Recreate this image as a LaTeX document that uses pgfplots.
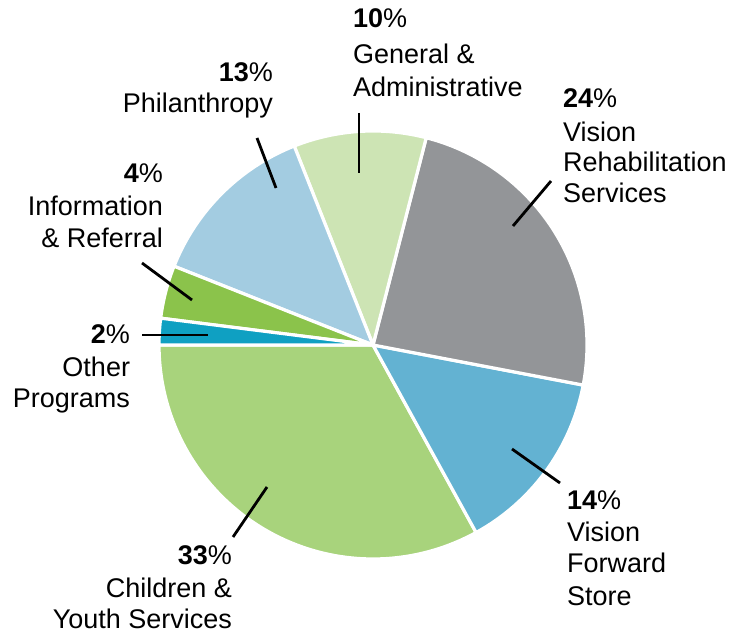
\documentclass[border=0pt]{standalone}
\usepackage{pgfplots}
\pgfplotsset{compat=1.18}
\usepackage{fontspec}
\setmainfont{Liberation Sans}
\definecolor{cCYS}{HTML}{A8D37C}
\definecolor{cVFS}{HTML}{63B2D2}
\definecolor{cVRS}{HTML}{939598}
\definecolor{cGA}{HTML}{CDE4B4}
\definecolor{cPH}{HTML}{A3CCE1}
\definecolor{cIR}{HTML}{8BC34B}
\definecolor{cOP}{HTML}{0FA0C2}
\tikzset{lw/.style={anchor=base west, font=\fontsize{13.5}{16}\selectfont, inner sep=0pt, outer sep=0pt},
         le/.style={anchor=base east, font=\fontsize{13.5}{16}\selectfont, inner sep=0pt, outer sep=0pt}}
% shares in percent: 33, 14, 24, 10, 13, 4, 2 (start at 180 deg, counter-clockwise, 3.6 deg per percent)
\begin{document}
\begin{tikzpicture}
\begin{axis}[name=ax, scale only axis, width=376.5pt, height=318pt,
  xmin=0, xmax=753, ymin=0, ymax=636, hide axis, clip=false]
\pgfplotsset{slice/.style={draw=white, line width=1.6pt, line join=round, samples=80, variable=\t}}
\addplot[slice, fill=cCYS, domain=180:298.8] ({373+214*cos(t)},{291+214*sin(t)}) -- (axis cs:373,291) -- cycle;
\addplot[slice, fill=cVFS, domain=298.8:349.2] ({373+214*cos(t)},{291+214*sin(t)}) -- (axis cs:373,291) -- cycle;
\addplot[slice, fill=cVRS, domain=349.2:435.6] ({373+214*cos(t)},{291+214*sin(t)}) -- (axis cs:373,291) -- cycle;
\addplot[slice, fill=cGA, domain=435.6:471.6] ({373+214*cos(t)},{291+214*sin(t)}) -- (axis cs:373,291) -- cycle;
\addplot[slice, fill=cPH, domain=471.6:518.4] ({373+214*cos(t)},{291+214*sin(t)}) -- (axis cs:373,291) -- cycle;
\addplot[slice, fill=cIR, domain=518.4:532.8] ({373+214*cos(t)},{291+214*sin(t)}) -- (axis cs:373,291) -- cycle;
\addplot[slice, fill=cOP, domain=532.8:540] ({373+214*cos(t)},{291+214*sin(t)}) -- (axis cs:373,291) -- cycle;
% leader lines
\pgfplotsset{lead/.style={black, line width=1.4pt, mark=none}}
\addplot[lead] coordinates {(359,523) (359,463)};
\addplot[lead] coordinates {(257,498) (276,448)};
\addplot[lead] coordinates {(142,373) (192,336)};
\addplot[lead] coordinates {(142,301) (208,301)};
\addplot[lead] coordinates {(551,455) (513,410)};
\addplot[lead] coordinates {(512,187) (560,153)};
\addplot[lead] coordinates {(267,149) (233,99)};
% labels
\node[lw] at (axis cs:353,608) {\textbf{10}\%};
\node[lw] at (axis cs:353,572) {General \&};
\node[lw] at (axis cs:353,539) {Administrative};
\node[le] at (axis cs:273,554) {\textbf{13}\%};
\node[le] at (axis cs:273,523) {Philanthropy};
\node[le] at (axis cs:163,453) {\textbf{4}\%};
\node[le] at (axis cs:163,420) {Information};
\node[le] at (axis cs:163,388) {\& Referral};
\node[le] at (axis cs:130,292) {\textbf{2}\%};
\node[le] at (axis cs:130,259) {Other};
\node[le] at (axis cs:130,228) {Programs};
\node[lw] at (axis cs:563,528) {\textbf{24}\%};
\node[lw] at (axis cs:563,494) {Vision};
\node[lw] at (axis cs:563,464) {Rehabilitation};
\node[lw] at (axis cs:563,433) {Services};
\node[lw] at (axis cs:567,126) {\textbf{14}\%};
\node[lw] at (axis cs:567,94) {Vision};
\node[lw] at (axis cs:567,63) {Forward};
\node[lw] at (axis cs:567,31) {Store};
\node[le] at (axis cs:232,71) {\textbf{33}\%};
\node[le] at (axis cs:232,39) {Children \&};
\node[le] at (axis cs:232,8) {Youth Services};
\end{axis}
\pgfresetboundingbox
\path[use as bounding box] (ax.south west) rectangle (ax.north east);
\end{tikzpicture}
\end{document}
